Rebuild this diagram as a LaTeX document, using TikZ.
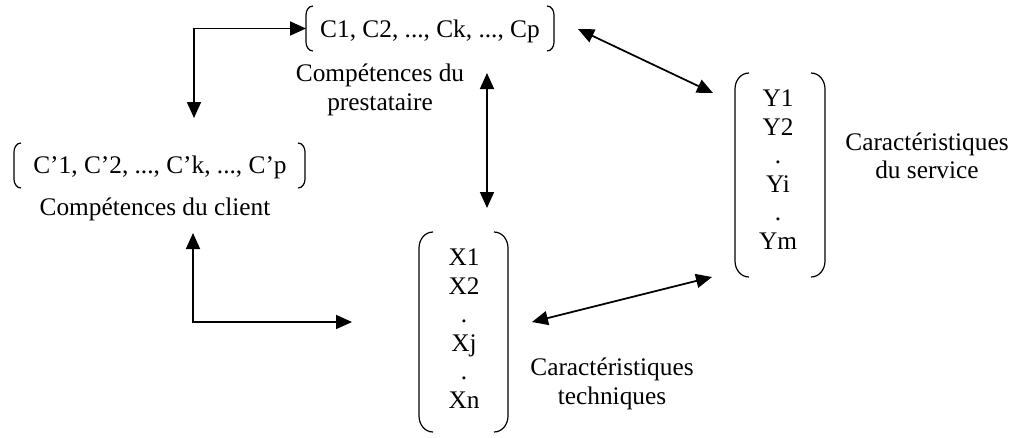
\documentclass[tikz,border=0pt]{standalone}
\usepackage{fontspec}
\setmainfont{Liberation Serif}
\usetikzlibrary{arrows.meta,calc}

\tikzset{
  every node/.style={inner sep=0pt, outer sep=0pt},
  txt/.style={font=\fontsize{19}{21.4}\selectfont, align=center},
  grp/.style={draw=none, rectangle},
  brk/.style={line width=0.9pt},
  link/.style={line width=1.3pt, {Triangle[length=12pt,width=10.5pt]}-{Triangle[length=12pt,width=10.5pt]}},
}

% square brackets with rounded ends on both sides of a group box
\newcommand{\groupbrackets}[3]{% name, corner width, corner height
  \draw[brk] ($(#1.north west)+(#2,0)$) to[out=180,in=90] ($(#1.north west)+(0,#3)$)
    -- ($(#1.south west)+(0,-#3)$) to[out=-90,in=180] ($(#1.south west)+(#2,0)$);
  \draw[brk] ($(#1.north east)+(-#2,0)$) to[out=0,in=90] ($(#1.north east)+(0,#3)$)
    -- ($(#1.south east)+(0,-#3)$) to[out=-90,in=0] ($(#1.south east)+(-#2,0)$);
}

\begin{document}
\begin{tikzpicture}[x=0.75pt, y=-0.75pt]
\useasboundingbox (0,0) rectangle (1011,437);

% group boxes
\node[grp, minimum width=186pt, minimum height=33.75pt] (prest) at (430,28.5) {};
\node[grp, minimum width=218.25pt, minimum height=33.75pt] (client) at (159.5,165.5) {};
\node[grp, minimum width=66.75pt, minimum height=150pt] (tech) at (463.5,332) {};
\node[grp, minimum width=67.5pt, minimum height=153pt] (serv) at (780,175) {};

\groupbrackets{prest}{7}{9}
\groupbrackets{client}{7}{9}
\groupbrackets{tech}{14}{16}
\groupbrackets{serv}{14}{16}

% contents
\node[txt, anchor=base] (prestItems) at (430,37) {C1, C2, ..., Ck, ..., Cp};
\node[txt, anchor=base] (clientItems) at (160,173) {C’1, C’2, ..., C’k, ..., C’p};
\node[txt] (techItems) at (464,328.5) {X1\\X2\\.\\Xj\\.\\Xn};
\node[txt] (servItems) at (778,169.5) {Y1\\Y2\\.\\Yi\\.\\Ym};

% captions
\node[txt] (prestLabel) at (380,90) {Compétences du\\prestataire};
\node[txt, anchor=base] (clientLabel) at (155,215) {Compétences du client};
\node[txt] (techLabel) at (612,384) {Caractéristiques\\techniques};
\node[txt] (servLabel) at (927,156) {Caractéristiques\\du service};

% free ends of the connectors
\coordinate (clientIn) at (194,118);
\coordinate (clientOut) at (193,233);
\coordinate (techIn) at (352,322);
\coordinate (prestDown) at (487,73);
\coordinate (techUp) at (487,208);
\coordinate (prestRight) at (578,29);
\coordinate (servTop) at (713,93);
\coordinate (techRight) at (532,322);
\coordinate (servBottom) at (712,277);

% connectors
\draw[link] (prest.west) -| (clientIn);
\draw[link] (clientOut) |- (techIn);
\draw[link] (prestDown) -- (techUp);
\draw[link] (prestRight) -- (servTop);
\draw[link] (techRight) -- (servBottom);
\end{tikzpicture}
\end{document}
